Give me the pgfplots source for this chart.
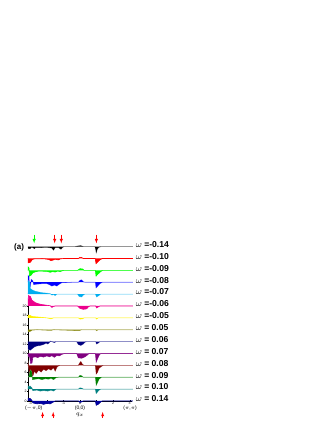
\documentclass[border=0pt]{standalone}
\usepackage{pgfplots}
\pgfplotsset{compat=1.18}
\usepackage{fontspec}
\setmainfont{Liberation Sans}

\definecolor{cgreen}{HTML}{00FF00}
\definecolor{colive}{HTML}{808000}
\definecolor{cnavy}{HTML}{000080}
\definecolor{cpurple}{HTML}{800080}
\definecolor{cmaroon}{HTML}{800000}
\definecolor{cdgreen}{HTML}{008000}
\definecolor{cteal}{HTML}{008080}
\definecolor{cdblue}{HTML}{0000A0}

% one spectrum: offset, fill colour, line colour, deviations from baseline
\newcommand{\spec}[4]{%
  \addplot[draw=#3, line width=0.6pt, y filter/.expression={y+#1}] coordinates {#4};
  \addplot[fill=#2, draw=none, y filter/.expression={y+#1}] coordinates {#4} -- cycle;
}
\newcommand{\wlab}[2]{%
  \node[anchor=west, inner sep=0pt, font=\fontsize{8.6}{8.6}\selectfont\bfseries]
    at (axis cs:3.36,#1+0.45) {$\omega$ =#2};
}

\begin{document}
\begin{tikzpicture}
\path[use as bounding box] (0,0) rectangle (332pt,430pt);
\begin{axis}[
  anchor=origin, at={(80pt,29pt)},
  x=16.55pt, y=4.75pt,
  xmin=-3.1416, xmax=3.1416, ymin=0, ymax=20,
  clip=false,
  axis x line=bottom, axis y line=left,
  axis line style={-, line width=0.4pt},
  xtick={-3,-2,-1,0,1,2,3}, ytick={0,2,...,20},
  tick style={black, line width=0.3pt}, major tick length=1.5pt,
  tick label style={font=\fontsize{3.5}{3.5}\selectfont, inner sep=0.6pt},
  /pgf/number format/assume math mode=true,
  xlabel={$q_x$},
  xlabel style={font=\fontsize{6}{6}\selectfont, at={(axis description cs:0.5,0)},
    anchor=center, yshift=-14pt},
  ]
\spec{32.5}{black}{gray}{(-3.14,0)(-3.12,-0.4)(-3.0,-0.4)(-2.95,-0.15)(-2.85,-0.2)(-2.75,-0.45)(-2.7,-0.2)(-2.4,-0.2)(-2.0,-0.15)(-1.7,-0.3)(-1.6,-0.75)(-1.5,-0.2)(-1.3,-0.2)(-1.15,-0.55)(-1.05,-0.15)(-0.95,0)(-0.3,0)(-0.1,0.15)(0.05,0.2)(0.2,0)(0.9,0)(0.95,-0.6)(0.98,-1.3)(1.05,-0.5)(1.15,-0.1)(1.3,0)(3.2,0)}
\spec{30}{red}{red}{(-3.14,0)(-3.13,-0.9)(-3.0,-0.8)(-2.9,-0.3)(-2.8,-0.1)(-2.2,-0.05)(-1.9,-0.2)(-1.75,-0.45)(-1.6,-0.3)(-1.5,-0.15)(-1.3,-0.3)(-1.2,-0.1)(-1.0,0)(-0.1,0)(0,0.25)(0.1,0.2)(0.2,0)(0.92,0)(0.97,-1.1)(1.05,-0.8)(1.2,-0.3)(1.35,0)(3.2,0)}
\spec{27.5}{cgreen}{cgreen}{(-3.14,0)(-3.13,0.7)(-3.08,0.5)(-3.05,-1.2)(-2.95,-1.0)(-2.85,-0.5)(-2.7,-0.3)(-2.5,-0.15)(-2.0,-0.2)(-1.8,-0.4)(-1.65,-0.25)(-1.5,-0.35)(-1.35,-0.15)(-1.2,-0.25)(-1.0,0)(-0.15,0)(0,0.35)(0.15,0.3)(0.25,0)(0.93,0)(0.97,-1.2)(1.05,-0.9)(1.2,-0.4)(1.35,0)(3.2,0)}
\spec{25}{blue}{blue!50}{(-3.14,0)(-3.13,1.4)(-3.08,1.2)(-3.05,-0.9)(-3.0,-1.0)(-2.95,0.6)(-2.85,0.3)(-2.8,-0.5)(-2.6,-0.4)(-2.3,-0.3)(-2.0,-0.3)(-1.85,-0.5)(-1.7,-0.8)(-1.55,-0.6)(-1.4,-0.8)(-1.25,-0.4)(-1.1,-0.1)(-0.5,0)(-0.1,0)(0.0,0.4)(0.1,0.5)(0.2,0.1)(0.3,0)(0.93,0)(0.97,-1.2)(1.05,-0.9)(1.2,-0.3)(1.35,0)(3.2,0)}
\spec{22.5}{cyan}{cyan!50}{(-3.14,0)(-3.13,2.8)(-3.05,2.6)(-3.0,1.2)(-2.9,0.9)(-2.7,0.6)(-2.5,0.45)(-2.3,0.3)(-2.0,0.2)(-1.8,0.1)(-1.7,-0.2)(-1.6,-0.1)(-1.5,-0.3)(-1.4,0)(-1.2,0)(-0.15,0)(-0.05,-0.5)(0.1,-0.6)(0.2,-0.2)(0.3,0)(0.93,0)(1.0,-0.6)(1.1,-0.4)(1.25,0)(3.2,0)}
\spec{20}{magenta}{magenta}{(-3.14,0)(-3.12,2.2)(-3.0,2.0)(-2.9,1.2)(-2.7,0.7)(-2.5,0.45)(-2.3,0.3)(-2.0,0.15)(-1.8,0.05)(-1.7,-0.3)(-1.6,-0.1)(-1.5,0)(-0.15,0)(0,-0.5)(0.2,-0.7)(0.4,-0.6)(0.5,-0.2)(0.6,0)(0.95,0)(1.0,-0.4)(1.1,-0.2)(1.2,0)(3.2,0)}
\spec{17.5}{yellow}{yellow!80}{(-3.14,0)(-3.13,0.6)(-3.0,0.5)(-2.9,0.3)(-2.6,0.2)(-2.3,0.1)(-2.0,0)(-1.75,-0.2)(-1.6,0)(-0.1,0)(0,-0.25)(0.15,-0.2)(0.25,0)(0.95,0)(1.0,-0.25)(1.1,0)(3.2,0)}
\spec{15}{colive}{colive!50}{(-3.14,0)(-3.13,-0.4)(-3.0,-0.35)(-2.9,-0.1)(-2.6,0)(-1.75,-0.15)(-1.6,0)(-0.05,-0.2)(0.1,0)(0.95,0)(1.0,-0.2)(1.1,0)(3.2,0)}
\spec{12.5}{cnavy}{cnavy!55}{(-3.14,0)(-3.13,-1.6)(-3.0,-1.8)(-2.9,-1.5)(-2.75,-1.1)(-2.6,-0.9)(-2.4,-0.8)(-2.2,-0.6)(-2.05,-0.3)(-1.95,-0.5)(-1.85,-0.2)(-1.8,0.1)(-1.7,0)(-1.55,-0.2)(-1.45,0)(-0.2,0)(-0.1,-0.6)(0.05,-0.8)(0.2,-0.5)(0.3,-0.1)(0.4,0)(0.95,0)(1.0,-0.5)(1.1,-0.3)(1.2,0)(3.2,0)}
\spec{10}{cpurple}{cpurple!80}{(-3.14,0)(-3.13,-0.6)(-3.05,-0.6)(-2.98,-2.1)(-2.9,-2.0)(-2.85,-0.8)(-2.7,-0.7)(-2.55,-0.85)(-2.4,-0.6)(-2.2,-0.75)(-2.0,-0.5)(-1.85,-0.7)(-1.7,-0.45)(-1.55,-0.8)(-1.4,-0.4)(-1.25,-0.5)(-1.1,-0.2)(-0.95,0)(-0.2,0)(-0.1,-0.9)(0.1,-1.0)(0.3,-0.7)(0.45,-0.3)(0.55,0)(0.93,0)(0.98,-1.8)(1.05,-1.2)(1.15,-0.4)(1.25,0)(3.2,0)}
\spec{7.5}{cmaroon}{cmaroon!65}{(-3.14,0)(-3.13,0.4)(-3.08,-1.0)(-3.0,-2.3)(-2.85,-2.2)(-2.75,-1.2)(-2.65,-1.7)(-2.5,-1.0)(-2.35,-1.4)(-2.2,-0.8)(-2.05,-1.1)(-1.9,-0.7)(-1.75,-1.0)(-1.6,-0.5)(-1.5,-1.2)(-1.4,-0.4)(-1.3,-0.1)(-1.2,0)(-0.1,0)(0,0.6)(0.05,0.8)(0.15,0.2)(0.25,0)(0.93,0)(0.98,-1.8)(1.05,-1.5)(1.15,-0.6)(1.3,-0.2)(1.4,0)(3.2,0)}
\spec{5}{cdgreen}{cdgreen!55}{(-3.14,0)(-3.08,0.2)(-3.0,1.5)(-2.92,1.2)(-2.87,-0.5)(-2.7,-0.4)(-2.5,-0.3)(-2.3,-0.5)(-2.1,-0.3)(-1.9,-0.4)(-1.75,-0.2)(-1.6,-0.5)(-1.45,-0.1)(-1.3,0)(-0.1,0)(0,0.4)(0.1,0.3)(0.2,0)(0.93,0)(0.98,-1.7)(1.05,-1.2)(1.15,-0.4)(1.3,0)(3.2,0)}
\spec{2.5}{cteal}{cteal!75}{(-3.14,0)(-3.13,0.6)(-3.0,0.6)(-2.9,0.2)(-2.85,-0.3)(-2.6,-0.2)(-2.4,-0.4)(-2.2,-0.3)(-1.95,-0.4)(-1.75,-0.2)(-1.6,-0.4)(-1.45,0)(-0.1,0)(0,0.25)(0.1,0.2)(0.2,0)(0.93,0)(0.98,-0.9)(1.05,-0.6)(1.15,-0.2)(1.25,0)(3.2,0)}
\spec{0}{cdblue}{cnavy}{(-3.14,0)(-3.13,0.6)(-3.0,0.5)(-2.9,0.1)(-2.85,-0.4)(-2.6,-0.6)(-2.4,-0.5)(-2.2,-0.7)(-2.0,-0.5)(-1.8,-0.6)(-1.65,-0.3)(-1.5,0)(-0.1,0)(0,-0.3)(0.1,-0.2)(0.2,0)(0.93,0)(0.98,-0.9)(1.1,-0.7)(1.25,-0.2)(1.35,0)(3.2,0)}

\wlab{32.5}{-0.14}
\wlab{30}{-0.10}
\wlab{27.5}{-0.09}
\wlab{25}{-0.08}
\wlab{22.5}{-0.07}
\wlab{20}{-0.06}
\wlab{17.5}{-0.05}
\wlab{15}{ 0.05}
\wlab{12.5}{ 0.06}
\wlab{10}{ 0.07}
\wlab{7.5}{ 0.08}
\wlab{5}{ 0.09}
\wlab{2.5}{ 0.10}
\wlab{0}{ 0.14}

\node[font=\fontsize{5}{5}\selectfont] at (axis cs:-2.8,-1.6) {($-\pi$,0)};
\node[font=\fontsize{5}{5}\selectfont] at (axis cs:0,-1.6) {(0,0)};
\node[font=\fontsize{5}{5}\selectfont] at (axis cs:3.03,-1.6) {($\pi$,$\pi$)};
\node[font=\fontsize{8}{8}\selectfont\bfseries, anchor=east] at (axis cs:-3.17,32.4) {(a)};

% arrows above the top spectrum
\draw[cgreen, -latex, line width=0.5pt] (axis cs:-2.77,35.0) -- (axis cs:-2.77,33.2);
\draw[red, -latex, line width=0.5pt] (axis cs:-1.53,35.0) -- (axis cs:-1.53,33.2);
\draw[red, -latex, line width=0.5pt] (axis cs:-1.13,35.0) -- (axis cs:-1.13,33.2);
\draw[red, -latex, line width=0.5pt] (axis cs:0.99,35.0) -- (axis cs:0.99,33.2);
% arrows below the axis
\draw[red, -latex, line width=0.5pt] (axis cs:-2.26,-3.5) -- (axis cs:-2.26,-2.3);
\draw[red, -latex, line width=0.5pt] (axis cs:-1.62,-3.5) -- (axis cs:-1.62,-2.3);
\draw[red, -latex, line width=0.5pt] (axis cs:1.37,-3.5) -- (axis cs:1.37,-2.3);
\end{axis}
\end{tikzpicture}
\end{document}
